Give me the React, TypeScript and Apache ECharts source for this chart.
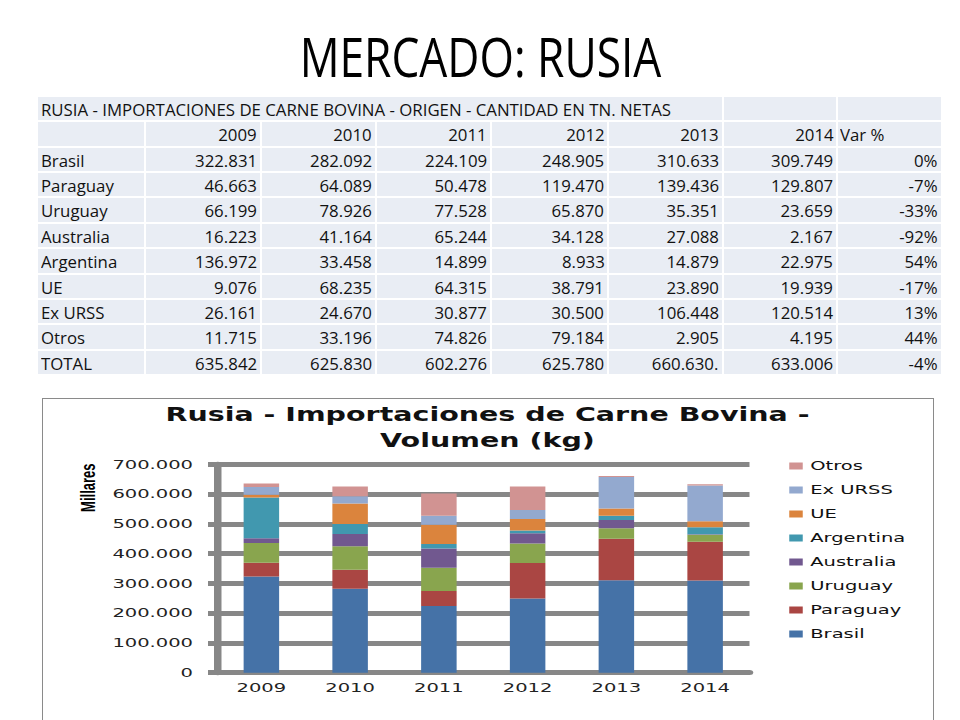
import React, { useEffect, useRef } from "react";
import * as echarts from "echarts";

// ---------- data ----------
const years = ["2009", "2010", "2011", "2012", "2013", "2014"];
const countries = ["Brasil", "Paraguay", "Uruguay", "Australia", "Argentina", "UE", "Ex URSS", "Otros"];
const brasil = [322831, 282092, 224109, 248905, 310633, 309749];
const paraguay = [46663, 64089, 50478, 119470, 139436, 129807];
const uruguay = [66199, 78926, 77528, 65870, 35351, 23659];
const australia = [16223, 41164, 65244, 34128, 27088, 2167];
const argentina = [136972, 33458, 14899, 8933, 14879, 22975];
const ue = [9076, 68235, 64315, 38791, 23890, 19939];
const exUrss = [26161, 24670, 30877, 30500, 106448, 120514];
const otros = [11715, 33196, 74826, 79184, 2905, 4195];
const totalLabels = ["635.842", "625.830", "602.276", "625.780", "660.630.", "633.006"];
const varPct = ["0%", "-7%", "-33%", "-92%", "54%", "-17%", "13%", "44%", "-4%"];
const colors = ["#4572A7", "#AA4643", "#89A54E", "#71588F", "#4198AF", "#DB843D", "#93A9CF", "#D19392"];

const slideTitle = "MERCADO: RUSIA";
const tableTitle = "RUSIA - IMPORTACIONES DE CARNE BOVINA - ORIGEN - CANTIDAD EN TN. NETAS";
const chartTitle = "Rusia - Importaciones de Carne Bovina -\nVolumen (kg)";
const yAxisName = "Millares";

const seriesValues = [brasil, paraguay, uruguay, australia, argentina, ue, exUrss, otros];

const fmt = (n: number) => String(n).replace(/\B(?=(\d{3})+(?!\d))/g, ".");

// ---------- layout ----------
const S = 1.5; // horizontal stretch of the chart picture
const chartLeft = 43;
const chartTop = 398;
const chartW = 889 / S;
const chartH = 330;

const colEdges = [37, 145, 260.7, 376, 491, 608.3, 722.7, 837.3, 941.7];
const tableTop = 96;
const rowH = 25.36;
const cellBg = "#e9edf4";

type Cell = { r: number; c0: number; c1: number; text: string; align: "left" | "right" };

function buildCells(): Cell[] {
  const cells: Cell[] = [];
  cells.push({ r: 0, c0: 0, c1: 6, text: tableTitle, align: "left" });
  cells.push({ r: 0, c0: 6, c1: 7, text: "", align: "left" });
  cells.push({ r: 0, c0: 7, c1: 8, text: "", align: "left" });
  cells.push({ r: 1, c0: 0, c1: 1, text: "", align: "left" });
  years.forEach((y, i) => cells.push({ r: 1, c0: i + 1, c1: i + 2, text: y, align: "right" }));
  cells.push({ r: 1, c0: 7, c1: 8, text: "Var %", align: "left" });
  countries.forEach((name, k) => {
    const r = k + 2;
    cells.push({ r, c0: 0, c1: 1, text: name, align: "left" });
    seriesValues[k].forEach((v, i) => cells.push({ r, c0: i + 1, c1: i + 2, text: fmt(v), align: "right" }));
    cells.push({ r, c0: 7, c1: 8, text: varPct[k], align: "right" });
  });
  const rt = countries.length + 2;
  cells.push({ r: rt, c0: 0, c1: 1, text: "TOTAL", align: "left" });
  totalLabels.forEach((t, i) => cells.push({ r: rt, c0: i + 1, c1: i + 2, text: t, align: "right" }));
  cells.push({ r: rt, c0: 7, c1: 8, text: varPct[countries.length], align: "right" });
  return cells;
}

function Table() {
  const cells = buildCells();
  return (
    <>
      {cells.map((c, i) => {
        const left = colEdges[c.c0] + 1;
        const width = colEdges[c.c1] - colEdges[c.c0] - 2;
        const isVarHead = c.text === "Var %";
        return (
          <div
            key={i}
            style={{
              position: "absolute",
              left,
              top: tableTop + c.r * rowH + 1,
              width,
              height: rowH - 2,
              background: cellBg,
              boxSizing: "border-box",
              padding: isVarHead ? "2px 0 0 2px" : "2px 3px 0 3px",
              lineHeight: `${rowH - 2}px`,
              fontFamily: "'Open Sans', sans-serif",
              fontSize: 16,
              color: "#111",
              textAlign: c.align,
              whiteSpace: "nowrap",
              overflow: "visible",
            }}
          >
            <span
              style={{
                display: "inline-block",
                transform: "scaleX(1.05)",
                transformOrigin: c.align === "right" ? "100% 50%" : "0 50%",
              }}
            >
              {c.text}
            </span>
          </div>
        );
      })}
    </>
  );
}

function Chart() {
  const ref = useRef<HTMLDivElement>(null);
  useEffect(() => {
    if (!ref.current) return;
    const chart = echarts.init(ref.current, null, { renderer: "svg", width: chartW, height: chartH });
    const gray = "#878787";
    chart.setOption({
      animation: false,
      color: colors,
      title: {
        text: chartTitle,
        left: "center",
        top: 4,
        padding: 0,
        textStyle: {
          fontFamily: "DejaVu Sans",
          fontWeight: "bold",
          fontSize: 19,
          lineHeight: 25.5,
          color: "#111",
        },
      },
      legend: {
        orient: "vertical",
        left: 497.5,
        top: 60,
        padding: 0,
        icon: "rect",
        itemWidth: 9,
        itemHeight: 7,
        itemGap: 8,
        data: countries.slice().reverse(),
        textStyle: { fontFamily: "DejaVu Sans", fontSize: 13, lineHeight: 16, color: "#111" },
      },
      grid: { left: 116, top: 66.3, width: 355, height: 208.4 },
      xAxis: {
        type: "category",
        data: years,
        axisLine: { lineStyle: { color: gray, width: 5 } },
        axisTick: { show: false },
        axisLabel: { margin: 8, fontFamily: "DejaVu Sans", fontSize: 13, color: "#222" },
      },
      yAxis: {
        type: "value",
        min: 0,
        max: 700000,
        interval: 100000,
        axisLine: { show: true, lineStyle: { color: gray, width: 5 } },
        axisTick: { show: true, length: 6, lineStyle: { color: gray, width: 5 } },
        splitLine: { show: true, lineStyle: { color: gray, width: 5 } },
        axisLabel: {
          margin: 16,
          fontFamily: "DejaVu Sans",
          fontSize: 13,
          color: "#222",
          formatter: (v: number) => fmt(v),
        },
      },
      graphic: [
        {
          type: "text",
          x: 30.5,
          y: 89.7,
          rotation: Math.PI / 2,
          style: {
            text: yAxisName,
            fontFamily: "Liberation Sans",
            fontWeight: "bold",
            fontSize: 13,
            fill: "#000",
            align: "center",
            verticalAlign: "middle",
            textAlign: "center",
            textVerticalAlign: "middle",
          },
        },
      ],
      series: countries.map((name, k) => ({
        name,
        type: "bar",
        stack: "total",
        barWidth: "40%",
        data: seriesValues[k],
      })),
    });
    return () => chart.dispose();
  }, []);
  return (
    <div
      ref={ref}
      style={{
        position: "absolute",
        left: chartLeft,
        top: chartTop,
        width: chartW,
        height: chartH,
        transform: `scaleX(${S})`,
        transformOrigin: "0 0",
      }}
    />
  );
}

export default function App() {
  return (
    <div
      style={{
        position: "fixed",
        left: 0,
        top: 0,
        width: 960,
        height: 720,
        overflow: "hidden",
        background: "#fff",
      }}
    >
      <div
        style={{
          position: "absolute",
          left: 0,
          top: 29,
          width: 960,
          textAlign: "center",
          fontFamily: "'Open Sans', sans-serif",
          fontSize: 54,
          lineHeight: "54px",
          color: "#000",
        }}
      >
        <span style={{ display: "inline-block", transform: "scaleX(0.82)", transformOrigin: "50% 50%" }}>
          {slideTitle}
        </span>
      </div>
      <Table />
      <div
        style={{
          position: "absolute",
          left: 42,
          top: 397.5,
          width: 891.5,
          height: 340,
          boxSizing: "border-box",
          border: "1.5px solid #8a8a8a",
        }}
      />
      <Chart />
    </div>
  );
}
